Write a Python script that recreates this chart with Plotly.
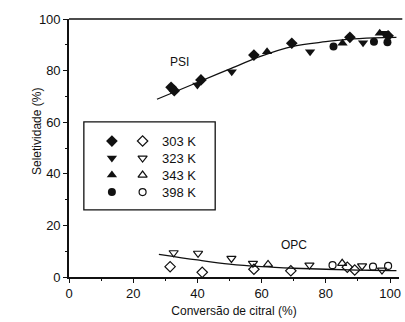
import plotly.graph_objects as go

# PSI selectivity (filled markers) per temperature: conversion (%), selectivity (%)
psi_303_x = [31.8, 32.8, 41.1, 57.6, 69.4, 87.5, 99.4]
psi_303_y = [73.5, 72.2, 76.4, 86.0, 90.6, 92.9, 93.5]
psi_323_x = [40.0, 50.7, 75.1, 91.6, 98.3]
psi_323_y = [74.4, 79.6, 87.3, 90.8, 94.5]
psi_343_x = [61.7, 85.2, 96.8]
psi_343_y = [87.3, 90.6, 94.5]
psi_398_x = [82.4, 95.0, 99.2]
psi_398_y = [89.3, 91.2, 91.0]

# OPC selectivity (open markers)
opc_303_x = [31.5, 41.5, 57.6, 69.1, 86.7, 89.0]
opc_303_y = [4.0, 1.8, 3.0, 2.4, 3.8, 2.7]
opc_323_x = [32.6, 40.2, 50.6, 57.3, 74.9, 91.3, 97.5]
opc_323_y = [9.4, 9.2, 7.2, 5.3, 4.6, 4.3, 2.7]
opc_343_x = [62.0, 85.1]
opc_343_y = [4.9, 5.3]
opc_398_x = [82.1, 94.7, 99.4]
opc_398_y = [4.6, 4.0, 4.3]

# Fitted trend curves
psi_fit_x = [27.4, 39.4, 49.8, 60.1, 69.4, 80.0, 86.6, 95.0, 102.0]
psi_fit_y = [68.9, 75.1, 80.5, 85.7, 89.3, 91.2, 92.1, 92.7, 92.9]
opc_fit_x = [28.0, 40.0, 50.0, 60.0, 70.0, 80.0, 90.0, 100.0, 102.0]
opc_fit_y = [8.8, 6.6, 5.0, 4.0, 3.4, 3.0, 2.7, 2.5, 2.5]

temperatures = ["303 K", "323 K", "343 K", "398 K"]
filled_symbols = ["diamond", "triangle-down", "triangle-up", "circle"]
open_symbols = ["diamond-open", "triangle-down-open", "triangle-up-open", "circle-open"]
marker_sizes = [9, 9, 9, 8]

x_ticks = [0, 20, 40, 60, 80, 100]
y_ticks = [0, 20, 40, 60, 80, 100]

INK = "#111111"
FONT = "Liberation Sans, Arial, sans-serif"

fig = go.Figure()

# trend lines
fig.add_trace(go.Scatter(x=psi_fit_x, y=psi_fit_y, mode="lines",
                         line=dict(color=INK, width=1.3, shape="spline"),
                         showlegend=False, hoverinfo="skip"))
fig.add_trace(go.Scatter(x=opc_fit_x, y=opc_fit_y, mode="lines",
                         line=dict(color=INK, width=1.3, shape="spline"),
                         showlegend=False, hoverinfo="skip"))

psi_sets = [(psi_303_x, psi_303_y), (psi_323_x, psi_323_y),
            (psi_343_x, psi_343_y), (psi_398_x, psi_398_y)]
opc_sets = [(opc_303_x, opc_303_y), (opc_323_x, opc_323_y),
            (opc_343_x, opc_343_y), (opc_398_x, opc_398_y)]

for (xs, ys), sym, sz in zip(psi_sets, filled_symbols, marker_sizes):
    fig.add_trace(go.Scatter(x=xs, y=ys, mode="markers",
                             marker=dict(symbol=sym, size=sz, color=INK,
                                         line=dict(width=0)),
                             showlegend=False))
for (xs, ys), sym, sz in zip(opc_sets, open_symbols, marker_sizes):
    fig.add_trace(go.Scatter(x=xs, y=ys, mode="markers",
                             marker=dict(symbol=sym, size=sz - 1, color=INK,
                                         line=dict(width=1.2, color=INK)),
                             showlegend=False))

# key drawn on an overlay axis spanning the plot area (0..1 in both directions)
row_y = [0.527, 0.461, 0.395, 0.329]
for ty, fs, osym, sz, label in zip(row_y, filled_symbols, open_symbols,
                                   marker_sizes, temperatures):
    fig.add_trace(go.Scatter(x=[0.13], y=[ty], xaxis="x2", yaxis="y2",
                             mode="markers",
                             marker=dict(symbol=fs, size=sz, color=INK,
                                         line=dict(width=0)),
                             showlegend=False, hoverinfo="skip"))
    fig.add_trace(go.Scatter(x=[0.223], y=[ty], xaxis="x2", yaxis="y2",
                             mode="markers",
                             marker=dict(symbol=osym, size=sz - 1, color=INK,
                                         line=dict(width=1.2, color=INK)),
                             showlegend=False, hoverinfo="skip"))
    fig.add_annotation(x=0.277, y=ty, xref="x2", yref="y2", text=label,
                       showarrow=False, xanchor="left", yanchor="middle",
                       font=dict(family=FONT, size=13, color=INK))

fig.add_shape(type="rect", xref="x2", yref="y2", x0=0.045, x1=0.443,
              y0=0.26, y1=0.601, line=dict(color=INK, width=1.3))

fig.add_annotation(x=34.4, y=83.3, text="PSI", showarrow=False,
                   font=dict(family=FONT, size=12, color=INK))
fig.add_annotation(x=70, y=12.4, text="OPC", showarrow=False,
                   font=dict(family=FONT, size=12, color=INK))

# y-axis title
fig.add_annotation(x=-0.125, y=0.565, xref="paper", yref="paper",
                   text="Seletividade (%)", textangle=-90, showarrow=False,
                   font=dict(family=FONT, size=12, color=INK))

# top border
fig.add_shape(type="line", xref="paper", yref="paper", x0=0, x1=1.01,
              y0=1, y1=1, line=dict(color=INK, width=1.6))

axis_common = dict(showgrid=False, zeroline=False, showline=True,
                   linecolor=INK, linewidth=1.6, ticks="outside",
                   ticklen=4, tickwidth=1.3, tickcolor=INK,
                   tickfont=dict(family=FONT, size=13, color=INK),
                   minor=dict(ticks="outside", ticklen=2, tickwidth=1,
                              tickcolor=INK, dtick=10))

fig.update_layout(
    width=405, height=322,
    margin=dict(l=69, r=4, t=19, b=45),
    paper_bgcolor="white", plot_bgcolor="white",
    xaxis=dict(range=[0, 102.8], tickvals=x_ticks,
               title=dict(text="Conversão de citral (%)", standoff=6,
                          font=dict(family=FONT, size=12, color=INK)),
               **axis_common),
    yaxis=dict(range=[0, 100], tickvals=y_ticks, **axis_common),
    xaxis2=dict(overlaying="x", range=[0, 1], visible=False),
    yaxis2=dict(overlaying="y", range=[0, 1], visible=False),
    showlegend=False,
)

fig.write_html("out.html")
